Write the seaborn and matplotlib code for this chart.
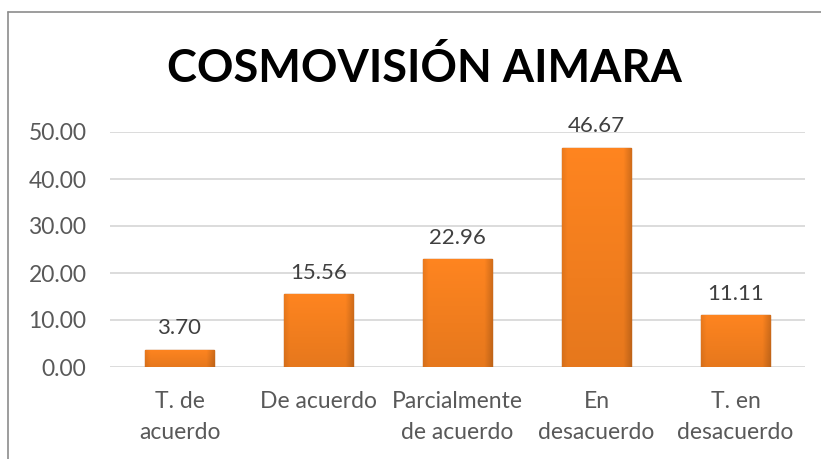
import numpy as np
import pandas as pd
import matplotlib
matplotlib.use("Agg")
import matplotlib.pyplot as plt
import seaborn as sns
from matplotlib.lines import Line2D

categorias = ["T. de\nacuerdo", "De acuerdo", "Parcialmente\nde acuerdo", "En\ndesacuerdo", "T. en\ndesacuerdo"]
valores = [3.70, 15.56, 22.96, 46.67, 11.11]
ticks_y = [0, 10, 20, 30, 40, 50]

sns.set_style("white")
plt.rcParams['font.family'] = ['Lato', 'DejaVu Sans']

df = pd.DataFrame({"cat": categorias, "val": valores})

fig = plt.figure(figsize=(8.21, 4.59), dpi=100)
ax = fig.add_axes([110/821, 1-367/459, 695/821, 235/459])

sns.barplot(data=df, x="cat", y="val", color="#F47B20", width=0.5, ax=ax,
            edgecolor="#B65A12", linewidth=1.0, zorder=3)

# degradado tipo Excel dentro de cada barra
gx = np.linspace(0, 1, 256)
horiz = 1 - 0.18 * np.clip((gx - 0.88) / 0.12, 0, 1) - 0.08 * np.clip((0.08 - gx) / 0.08, 0, 1)
gy = np.linspace(0, 1, 256)
vert = (1.04 - 0.10 * gy)[:, None]
base = np.array([0.96, 0.50, 0.12])
img = np.clip(base[None, None, :] * (horiz[None, :, None] * vert[:, :, None]), 0, 1)
for p in ax.patches:
    x0, y0 = p.get_x(), p.get_y()
    w, h = p.get_width(), p.get_height()
    im = ax.imshow(img, extent=[x0, x0 + w, y0, y0 + h], aspect="auto", zorder=3.5,
                   origin="upper")
    im.set_clip_path(p)
    ax.text(x0 + w / 2, y0 + h + 2.4, "{:.2f}".format(h), ha="center", va="bottom",
            fontsize=16, color="#404040", clip_on=False)

ax.set_xlim(-0.5, len(categorias) - 0.5)
ax.set_ylim(0, 50)
ax.set_yticks(ticks_y)
ax.set_yticklabels(["{:.2f}".format(t) for t in ticks_y])
ax.grid(axis="y", color="#D9D9D9", linewidth=1.3, zorder=0)
ax.set_axisbelow(True)
for s in ax.spines.values():
    s.set_visible(False)
ax.tick_params(axis="both", length=0, labelsize=16.5, labelcolor="#595959")
ax.tick_params(axis="y", pad=17)
ax.tick_params(axis="x", pad=17)
for t in ax.get_xticklabels():
    t.set_linespacing(1.6)
ax.set_xlabel("")
ax.set_ylabel("")

fig.text(424/821, 1-68/459, "COSMOVISIÓN AIMARA", ha="center", va="center",
         fontsize=32.5, fontweight="bold", color="black")

# marco del gráfico
fig.add_artist(Line2D([8/821, 8/821], [0, 1-12/459], color="#8C8C8C", linewidth=1.2))
fig.add_artist(Line2D([8/821, 1], [1-12/459, 1-12/459], color="#8C8C8C", linewidth=1.2))

fig.savefig("out.png", dpi=100)
